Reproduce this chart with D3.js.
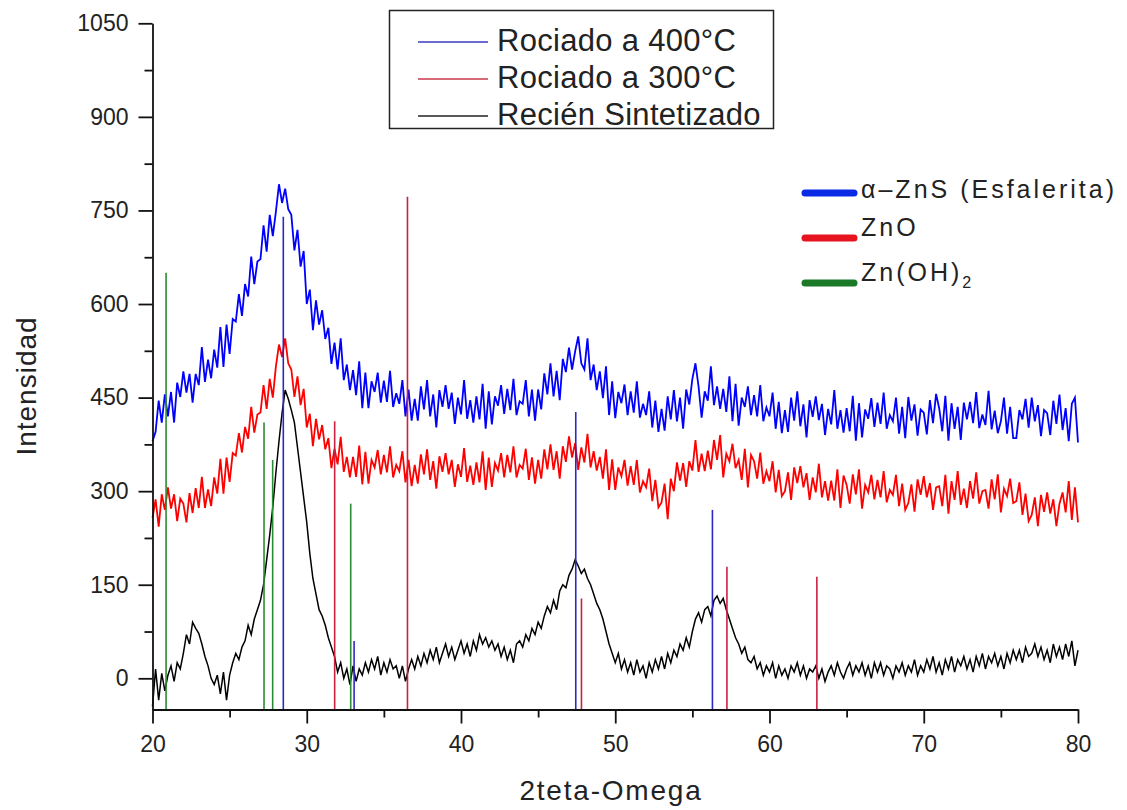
<!DOCTYPE html>
<html>
<head>
<meta charset="utf-8">
<script src="https://cdn.jsdelivr.net/npm/d3@7/dist/d3.min.js"></script>
<style>
  html, body { margin: 0; padding: 0; background: #fff; }
  svg { display: block; }
  text { font-family: "Liberation Sans", Arial, sans-serif; fill: #222; }
</style>
</head>
<body>
<svg id="chart" width="1127" height="810"></svg>
<script>
// ---------------- DATA ----------------
// 2theta grid: 20 .. 80, step 0.2 (5 readings per degree)
const thetaStart = 20, thetaStep = 0.2;

const rociado400 = [
  380,395,445,410,455, 420,459,410,474,451, 492,458,488,442,488, 470,531,475,511,481,
  527,498,563,499,567, 520,576,572,616,581, 632,612,676,632,668, 672,726,684,743,709,
  748,792,762,785,752, 743,686,719,660,685, 600,623,558,606,567, 590,544,562,504,538,
  495,545,478,503,462, 494,454,508,433,490, 433,476,459,490,442, 477,443,493,435,457,
  440,478,420,463,413, 448,413,468,431,478, 420,455,402,462,435, 470,432,458,408,450,
  423,478,416,446,410, 452,415,472,400,460, 407,452,437,470,424, 464,430,480,422,444,
  440,478,420,463,413, 463,431,489,455,505, 452,493,446,512,491, 530,495,524,548,505,
  495,545,478,503,462, 492,449,500,422,476, 417,459,441,471,422, 460,426,476,418,440,
  422,460,402,445,395, 432,397,452,415,462, 412,450,400,463,439, 480,505,468,418,460,
  445,500,438,468,432, 464,427,484,412,472, 405,450,435,468,422, 454,420,470,412,434,
  420,458,400,443,393, 430,395,450,413,460, 404,439,386,446,419, 452,414,440,390,432,
  407,462,400,430,394, 433,396,453,381,441, 386,431,416,449,403, 442,408,458,400,422,
  412,450,392,435,385, 451,413,439,389,431, 426,391,446,409,456, 433,396,453,381,441,
  400,435,382,442,415, 443,409,459,401,423, 406,461,399,429,393, 412,450,392,435,385,
  385,430,415,448,402, 450,412,438,388,430, 425,390,445,408,455, 398,433,380,440,450,
  378
];

const rociado300 = [
  257,287,243,295,270, 306,272,295,252,288, 280,250,297,265,305, 273,323,273,303,276,
  322,296,352,296,354, 315,361,357,393,362, 403,384,435,394,423, 426,470,432,480,450,
  500,535,515,545,505, 495,451,484,438,464, 402,424,372,416,383, 406,367,385,337,368,
  343,387,331,355,322, 355,323,373,311,363, 312,350,338,366,327, 358,330,372,322,342,
  332,364,314,350,308, 342,312,359,327,367, 318,348,304,356,331, 361,327,350,307,343,
  323,369,315,341,310, 346,314,364,302,354, 307,345,333,361,322, 358,330,372,322,342,
  336,368,318,354,312, 350,320,367,335,375, 334,364,320,372,347, 388,354,377,334,370,
  346,392,338,364,333, 355,320,367,302,351, 302,338,324,350,309, 340,310,350,298,316,
  306,336,284,318,274, 282,312,255,320,300, 346,317,345,307,348, 333,382,331,360,332,
  365,335,382,350,390, 322,360,348,376,337, 350,318,368,306,358, 348,320,362,312,332,
  316,348,298,334,292, 300,330,286,338,313, 340,306,329,286,322, 298,344,290,316,285,
  317,285,335,273,325, 310,280,327,295,335, 272,310,298,326,287, 318,290,332,282,302,
  294,326,276,312,270, 281,311,267,319,294, 324,290,313,270,306, 308,276,326,264,316,
  286,332,278,304,273, 316,288,330,280,300, 302,272,319,287,327, 266,304,292,320,281,
  284,314,262,296,252, 262,290,244,294,267, 298,264,287,244,280, 298,266,316,254,306,
  250
];

const recienSintetizado = [
  -45,15,-35,8,-20, 5,20,-5,25,15, 40,70,55,90,80, 72,55,35,20,0,
  -10,5,-25,10,-35, 5,25,40,30,50, 60,85,70,95,110, 125,150,190,230,275,
  330,380,425,462,448, 430,410,370,330,290, 250,200,160,135,110, 100,85,65,50,35,
  10,25,0,15,-10, 20,-5,15,5,25, 10,30,15,35,5, 25,10,30,15,20,
  0,20,-5,15,30, 15,35,20,40,25, 45,30,50,25,40, 55,35,50,30,45,
  60,40,55,35,60, 45,70,55,65,50, 60,45,55,35,50, 30,45,25,55,60,
  50,70,60,80,70, 90,80,100,115,105, 125,110,140,150,145, 165,175,190,180,168,
  175,160,150,135,120, 110,95,75,55,40, 25,40,15,30,10, 25,5,30,10,20,
  0,25,10,30,15, 35,15,40,25,45, 35,55,45,65,50, 75,95,105,90,110,
  115,100,125,132,120, 128,110,95,80,65, 55,40,50,30,25, 35,15,25,5,20,
  10,25,0,20,5, 15,0,20,10,25, 5,20,0,15,10, 20,0,15,-5,10,
  20,5,25,10,0, 15,25,5,20,10, 25,5,20,0,25, 10,25,5,20,15,
  0,20,10,25,5, 20,10,30,5,20, 10,30,15,35,10, 25,5,30,15,35,
  10,30,20,35,15, 30,10,35,20,40, 15,35,25,40,20, 35,15,40,25,45,
  30,45,25,50,35, 40,55,35,50,30, 45,25,55,35,50, 30,55,35,60,20,
  45
];

// reference patterns (position, stick top)
const znsPos = [28.48, 33.07, 47.44, 56.30];
const znsTop = [740, 60, 427, 270];
const znoPos = [31.81, 36.53, 47.81, 57.24, 63.07];
const znoTop = [412, 772, 128, 179, 163];
const znohPos = [20.88, 27.23, 27.79, 32.85];
const znohTop = [650, 410, 350, 280];

const yMajorTicks = [0, 150, 300, 450, 600, 750, 900, 1050];
const yMinorTicks = [75, 225, 375, 525, 675, 825, 975];
const xMajorTicks = [20, 30, 40, 50, 60, 70, 80];
const xMinorTicks = [25, 35, 45, 55, 65, 75];

const seriesNames = ["Rociado a 400°C", "Rociado a 300°C", "Recién Sintetizado"];
const phaseNames = ["α–ZnS (Esfalerita)", "ZnO", "Zn(OH)"];

// ---------------- CHART ----------------
const svg = d3.select("#chart");
const x = d3.scaleLinear().domain([20, 80]).range([152.5, 1078]);
const y = d3.scaleLinear().domain([-50, 1050]).range([709.5, 23.3]);

const toPts = arr => arr.map((v, i) => [thetaStart + i * thetaStep, v]);
const line = d3.line().x(d => x(d[0])).y(d => y(d[1]));

const curveColors = ["#0000ff", "#ff0000", "#000000"];
const curveWidths = [1.8, 1.8, 1.5];
[rociado400, rociado300, recienSintetizado].forEach((arr, k) => {
  svg.append("path").datum(toPts(arr))
    .attr("fill", "none").attr("stroke", curveColors[k])
    .attr("stroke-width", curveWidths[k]).attr("stroke-linejoin", "miter")
    .attr("d", line);
});

// sticks
const stickSets = [
  {pos: znohPos, top: znohTop, color: "#2c8a36"},
  {pos: znsPos, top: znsTop, color: "#2a2ac0"},
  {pos: znoPos, top: znoTop, color: "#cc2040"}
];
stickSets.forEach(s => {
  svg.append("g").selectAll("line").data(s.pos.map((p, i) => [p, s.top[i]]))
    .join("line")
    .attr("x1", d => x(d[0])).attr("x2", d => x(d[0]))
    .attr("y1", y(-50)).attr("y2", d => y(d[1]))
    .attr("stroke", s.color).attr("stroke-width", 1.6);
});

// axes
svg.append("g").attr("transform", `translate(${x(20)},0)`)
  .call(d3.axisLeft(y).tickValues(yMajorTicks).tickSize(14).tickSizeOuter(0).tickPadding(10).tickFormat(d3.format("d")));
svg.append("g").attr("transform", `translate(${x(20)},0)`)
  .call(d3.axisLeft(y).tickValues(yMinorTicks).tickSize(8).tickSizeOuter(0).tickFormat(""))
  .select(".domain").remove();
svg.append("g").attr("transform", `translate(0,${y(-50)})`)
  .call(d3.axisBottom(x).tickValues(xMajorTicks).tickSize(14).tickSizeOuter(0).tickPadding(12).tickFormat(d3.format("d")));
svg.append("g").attr("transform", `translate(0,${y(-50)})`)
  .call(d3.axisBottom(x).tickValues(xMinorTicks).tickSize(8).tickSizeOuter(0).tickFormat(""))
  .select(".domain").remove();

svg.selectAll(".domain, .tick line").attr("stroke", "#111").attr("stroke-width", 1.8);
svg.selectAll(".tick text").attr("font-size", 23).attr("font-family", "Liberation Sans, Arial, sans-serif").attr("fill", "#222");

// axis titles
svg.append("text").attr("transform", "translate(36,386) rotate(-90)")
  .attr("text-anchor", "middle").attr("font-size", 28).attr("letter-spacing", 1)
  .text("Intensidad");
svg.append("text").attr("x", 611).attr("y", 800)
  .attr("text-anchor", "middle").attr("font-size", 28).attr("letter-spacing", 1.8)
  .text("2teta-Omega");

// legend 1
const lg1 = svg.append("g");
lg1.append("rect").attr("x", 389.5).attr("y", 10.5).attr("width", 384).attr("height", 118)
  .attr("fill", "#fff").attr("stroke", "#222").attr("stroke-width", 1.5);
const lg1Colors = ["#3a3ac8", "#c83a4a", "#222"];
seriesNames.forEach((name, i) => {
  const cy = 42 + i * 37;
  lg1.append("line").attr("x1", 418).attr("x2", 488).attr("y1", cy).attr("y2", cy)
    .attr("stroke", lg1Colors[i]).attr("stroke-width", 1.5);
  lg1.append("text").attr("x", 497).attr("y", cy + 9).attr("font-size", 31).attr("letter-spacing", 0.3)
    .text(name);
});

// legend 2
const lg2 = svg.append("g");
const lg2Colors = ["#0a2ae6", "#e6141e", "#1a7a28"];
phaseNames.forEach((name, i) => {
  const ly = 193 + i * 45;
  lg2.append("line").attr("x1", 805).attr("x2", 854).attr("y1", ly).attr("y2", ly)
    .attr("stroke", lg2Colors[i]).attr("stroke-width", 7).attr("stroke-linecap", "round");
  const t = lg2.append("text").attr("x", 861).attr("y", i === 0 ? ly + 5 : ly - 2)
    .attr("font-size", 25).attr("letter-spacing", 3).text(name);
  if (i === 2) {
    t.append("tspan").attr("font-size", 16).attr("dy", 7).attr("letter-spacing", 0).text("2");
  }
});
</script>
</body>
</html>
